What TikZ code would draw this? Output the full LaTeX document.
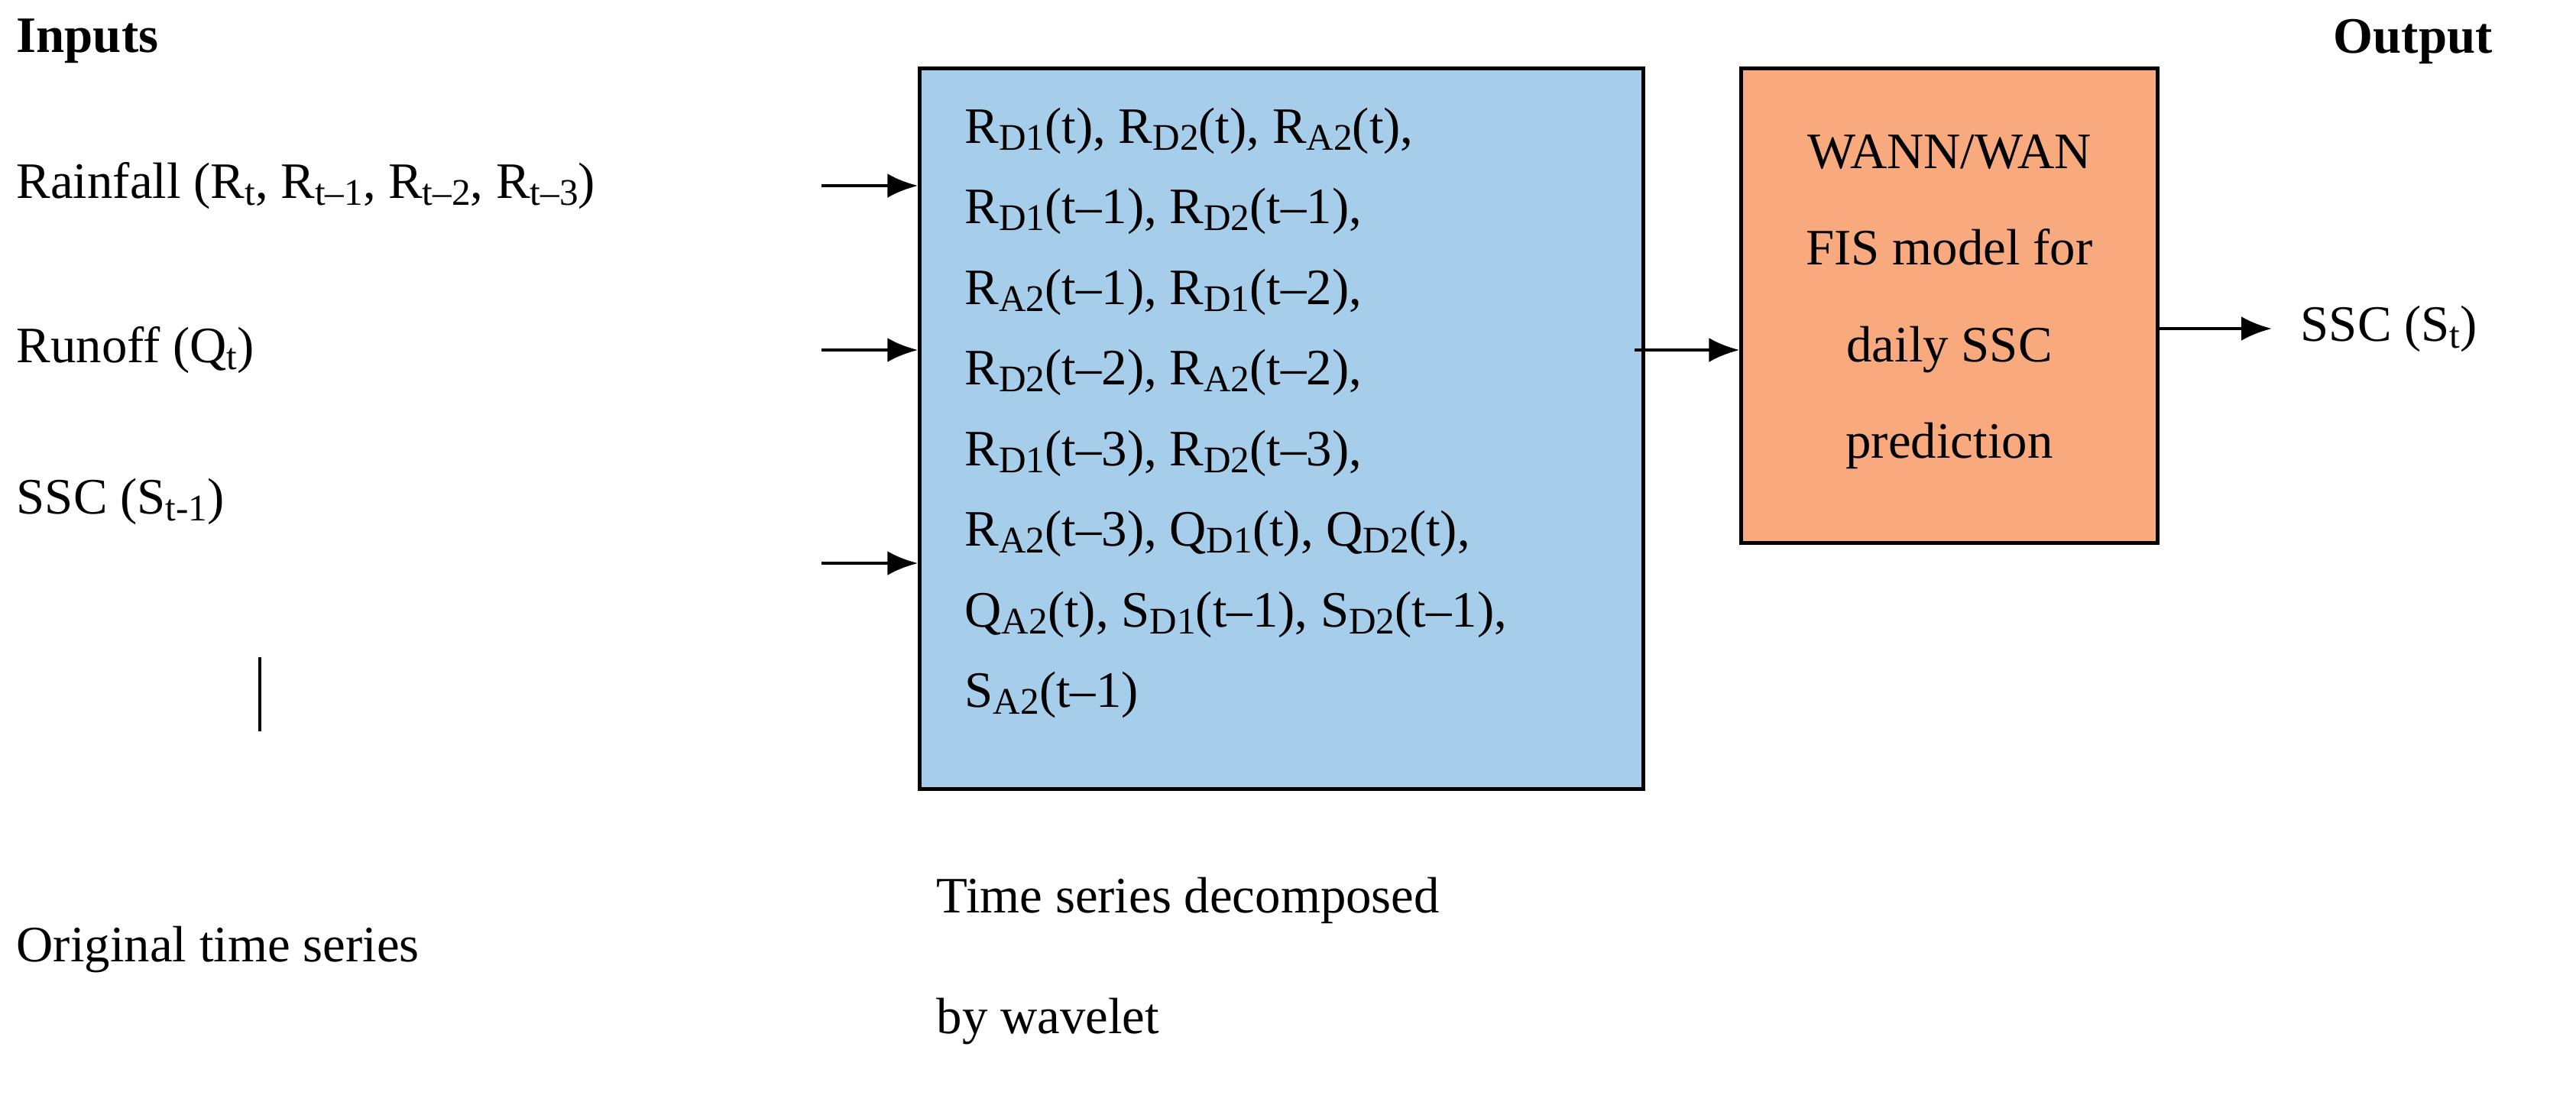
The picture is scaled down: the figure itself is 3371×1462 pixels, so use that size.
\documentclass[tikz,border=0pt]{standalone}
\usepackage{fontspec}
\setmainfont{Liberation Serif}
\usetikzlibrary{arrows.meta}
\newcommand\lo[1]{\raisebox{-0.3ex}{\fontsize{14}{14}\selectfont #1}}
\begin{document}
\begin{tikzpicture}[x=0.01cm,y=-0.01cm,
  txt/.style={anchor=west,font=\fontsize{19}{22}\selectfont,inner sep=0},
  arr/.style={-{Latex[length=0.4cm,width=0.32cm]},line width=1.4pt},
  box/.style={draw,line width=1.4pt,inner sep=0}]
\useasboundingbox (0,0) rectangle (3371,1462);
\node[txt,font=\fontsize{19}{22}\selectfont\bfseries] (in) at (21,54) {Inputs};
\node[txt,font=\fontsize{19}{22}\selectfont\bfseries] (out) at (3053,54) {Output};
\node[txt] (rain) at (21,243) {Rainfall (R\lo{t}, R\lo{t–1}, R\lo{t–2}, R\lo{t–3})};
\node[txt] (run) at (21,458) {Runoff (Q\lo{t})};
\node[txt] (ssc) at (21,656) {SSC (S\lo{t-1})};
\coordinate (v1) at (340,860); \coordinate (v2) at (340,957);
\draw[line width=1.4pt] (v1) -- (v2);
\node[txt] (orig) at (21,1243) {Original time series};
\node[txt] (dec) at (1225,1178) {Time series decomposed};
\node[txt] (wav) at (1225,1337) {by wavelet};
\node[box,fill={rgb,255:red,166;green,206;blue,234},minimum width=9.46cm,minimum height=9.42cm] (blue) at (1677,561) {};
\node[anchor=north west,inner sep=0,font=\fontsize{19}{21}\selectfont,align=left] (btxt) at (1262,140) {%
R\lo{D1}(t), R\lo{D2}(t), R\lo{A2}(t),\\[9pt]
R\lo{D1}(t–1), R\lo{D2}(t–1),\\[9pt]
R\lo{A2}(t–1), R\lo{D1}(t–2),\\[9pt]
R\lo{D2}(t–2), R\lo{A2}(t–2),\\[9pt]
R\lo{D1}(t–3), R\lo{D2}(t–3),\\[9pt]
R\lo{A2}(t–3), Q\lo{D1}(t), Q\lo{D2}(t),\\[9pt]
Q\lo{A2}(t), S\lo{D1}(t–1), S\lo{D2}(t–1),\\[9pt]
S\lo{A2}(t–1)};
\node[box,fill={rgb,255:red,248;green,169;blue,126},minimum width=5.44cm,minimum height=6.2cm] (orange) at (2551,400) {};
\node[align=center,font=\fontsize{19}{22}\selectfont] (otxt) at (2551,395) {WANN/WAN\\[14pt]FIS model for\\[14pt]daily SSC\\[14pt]prediction};
\coordinate (a1) at (1075,243);
\coordinate (a2) at (1075,458);
\coordinate (a3) at (1075,737);
\coordinate (c1) at (2139,458);
\coordinate (d2) at (2973,430);
\draw[arr] (a1)--(a1-|blue.west); \draw[arr] (a2)--(a2-|blue.west); \draw[arr] (a3)--(a3-|blue.west);
\draw[arr] (c1)--(c1-|orange.west); \draw[arr] (d2-|orange.east)--(d2);
\node[txt] (sst) at (3010,430) {SSC (S\lo{t})};
\end{tikzpicture}
\end{document}
